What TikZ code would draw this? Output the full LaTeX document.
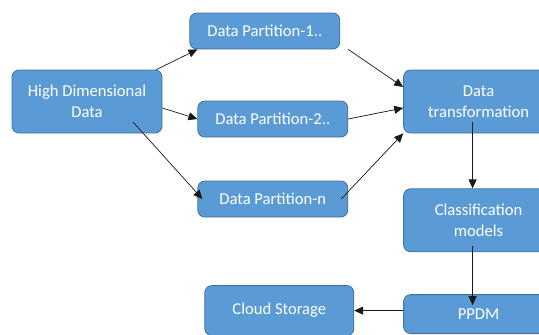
\documentclass[tikz,border=0pt]{standalone}
\usepackage{fontspec}
\setmainfont{Carlito}
\usetikzlibrary{arrows.meta, positioning}
\definecolor{boxblue}{HTML}{5B9BD5}
\definecolor{boxedge}{HTML}{41719C}

\begin{document}
\begin{tikzpicture}[x=1pt, y=-1pt,
  blk/.style = {draw=boxedge, fill=boxblue, line width=0.8pt, rounded corners=7pt,
    text=white, align=center, minimum width=150pt, minimum height=36pt,
    inner sep=0pt, font=\fontsize{16.6}{21}\selectfont},
  arr/.style = {-{Triangle[length=9pt,width=8pt]}, line width=0.7pt, draw=black!90}]
\useasboundingbox (0,0) rectangle (539,335);
\clip (0,0) rectangle (539,335);

\node[blk, minimum height=63pt] (hdd) at (87,101.5) {High Dimensional\\Data};
\node[blk] (p1) [right=27pt of hdd, yshift=70.5pt] {Data Partition-1..};
\node[blk] (p2) [right=35pt of hdd, yshift=-17.5pt] {Data Partition-2..};
\node[blk] (pn) [right=35pt of hdd, yshift=-97.5pt] {Data Partition-n};
\node[blk, minimum height=63pt] (dt) [right=55pt of p2, yshift=17.5pt] {Data\\transformation};
\node[blk, minimum height=63pt] (cm) [below=55pt of dt] {Classification\\models};
\node[blk, minimum height=39pt] (ppdm) [below=42pt of cm] {PPDM};
\node[blk, minimum height=50pt, minimum width=149pt] (cloud) [left=49pt of ppdm, yshift=3.5pt] {Cloud Storage};

\draw[arr] ([xshift=-6pt]hdd.north east) -- ([xshift=8pt]p1.south west);
\draw[arr] ([yshift=-6.5pt]hdd.east) -- (p2.west);
\draw[arr] ([xshift=46pt,yshift=-20.5pt]hdd.center) -- ([xshift=5pt]pn.west);
\draw[arr] ([xshift=8pt]p1.south east) -- ([yshift=14.5pt]dt.west);
\draw[arr] (p2.east) -- ([yshift=-6.5pt]dt.west);
\draw[arr] ([xshift=-7pt]pn.east) -- (dt.south west);
\draw[arr] ([xshift=-6pt,yshift=-20.5pt]dt.center) -- ([xshift=-6pt]cm.north);
\draw[arr] ([xshift=-6pt,yshift=-25.5pt]cm.center) -- ([xshift=-6pt,yshift=-11pt]ppdm.north);
\draw[arr] ([yshift=3.5pt]ppdm.west) -- (cloud.east);
\end{tikzpicture}
\end{document}
